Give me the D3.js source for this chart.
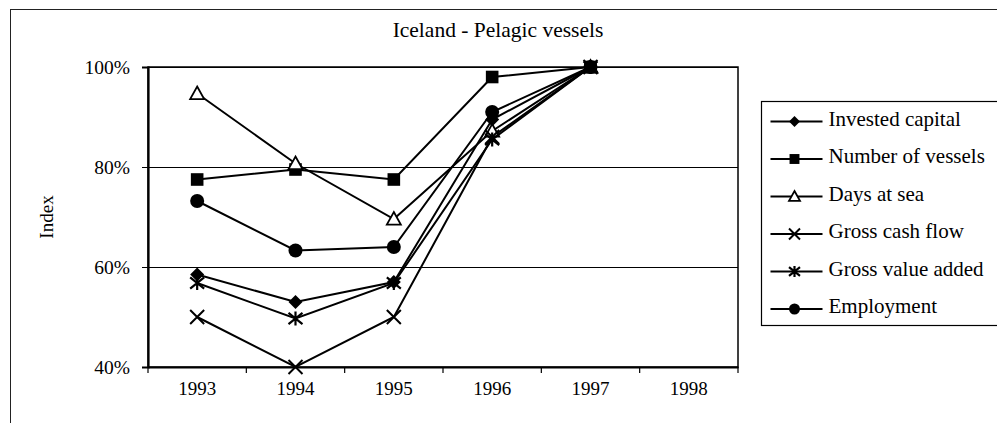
<!DOCTYPE html>
<html>
<head>
<meta charset="utf-8">
<script src="https://cdn.jsdelivr.net/npm/d3@7"></script>
<style>
  body { margin: 0; background: #fff; }
  svg, svg text { font-family: "Liberation Serif", "Times New Roman", "DejaVu Serif", serif; fill: #000; }
</style>
</head>
<body>
<div id="chart"></div>
<script>
// categories and series (index, %)
const years = ["1993", "1994", "1995", "1996", "1997", "1998"];
const investedCapital = [58.5, 53, 57, 89.5, 100];
const numberOfVessels = [77.5, 79.5, 77.5, 98, 100];
const daysAtSea = [94.7, 80.7, 69.6, 87.2, 100];
const grossCashFlow = [50, 40, 50, 86, 100];
const grossValueAdded = [56.8, 49.7, 56.8, 85.5, 100];
const employment = [73.2, 63.3, 64, 91, 100];
const yTicks = [40, 60, 80, 100];

const seriesNames = ["Invested capital", "Number of vessels", "Days at sea",
    "Gross cash flow", "Gross value added", "Employment"];
const seriesValues = [investedCapital, numberOfVessels, daysAtSea,
    grossCashFlow, grossValueAdded, employment];
const seriesSymbols = ["diamond", "square", "triangle", "times", "asterisk", "circle"];

// svg config
const width = 997, height = 423;
const margin = { left: 148, right: 259, top: 67, bottom: 56 };
const serif = "'Liberation Serif', 'Times New Roman', serif";

const svg = d3.select("#chart").append("svg")
    .attr("width", width)
    .attr("height", height)
    .style("font-family", serif);

// outer frame
svg.append("rect")
    .attr("x", 10.5).attr("y", 9.5)
    .attr("width", 1000).attr("height", 430)
    .attr("fill", "none").attr("stroke", "#222").attr("stroke-width", 1);

const x = d3.scaleBand()
    .domain(years)
    .range([margin.left, width - margin.right]);

const y = d3.scaleLinear()
    .domain([40, 100])
    .range([height - margin.bottom, margin.top]);

// gridlines
svg.append("g")
    .selectAll("line")
    .data(yTicks)
    .join("line")
    .attr("x1", margin.left).attr("x2", width - margin.right)
    .attr("y1", d => y(d)).attr("y2", d => y(d))
    .attr("stroke", "#000").attr("stroke-width", 1)
    .attr("shape-rendering", "crispEdges");

// plot border
svg.append("rect")
    .attr("x", margin.left).attr("y", margin.top)
    .attr("width", width - margin.right - margin.left)
    .attr("height", height - margin.bottom - margin.top)
    .attr("fill", "none").attr("stroke", "#000").attr("stroke-width", 1.5);

// axes
const xAxis = d3.axisBottom(x).tickSize(0).tickPadding(15);
const gx = svg.append("g")
    .attr("transform", `translate(0, ${height - margin.bottom})`)
    .call(xAxis)
    .attr("font-family", serif);
gx.select(".domain").attr("stroke-width", 2.2);
gx.selectAll("text").attr("font-size", 19);
// tick marks at band edges
gx.selectAll("line.edge")
    .data(years.concat(["end"]))
    .join("line")
    .attr("class", "edge")
    .attr("x1", (d, i) => margin.left + i * x.step())
    .attr("x2", (d, i) => margin.left + i * x.step())
    .attr("y1", 0).attr("y2", 6)
    .attr("stroke", "#000").attr("stroke-width", 1.2);

const yAxis = d3.axisLeft(y).tickValues(yTicks).tickSize(6).tickPadding(12)
    .tickFormat(d => d + "%");
const gy = svg.append("g")
    .attr("transform", `translate(${margin.left}, 0)`)
    .call(yAxis)
    .attr("font-family", serif);
gy.select(".domain").attr("stroke-width", 2.2);
gy.selectAll("text").attr("font-size", 19.5);

// axis title
svg.append("text")
    .attr("transform", `translate(53, ${(margin.top + height - margin.bottom) / 2}) rotate(-90)`)
    .attr("text-anchor", "middle")
    .attr("font-size", 19)
    .text("Index");

// chart title
svg.append("text")
    .attr("x", 498)
    .attr("y", 37)
    .attr("text-anchor", "middle")
    .attr("font-size", 21.5)
    .text("Iceland - Pelagic vessels");

// marker drawing
function drawMarker(g, type, size) {
    const s = size;
    if (type === "diamond") {
        g.append("path").attr("d", `M0,${-s}L${s},0L0,${s}L${-s},0Z`).attr("fill", "#000");
    } else if (type === "square") {
        g.append("rect").attr("x", -s * 0.9).attr("y", -s * 0.9)
            .attr("width", s * 1.8).attr("height", s * 1.8).attr("fill", "#000");
    } else if (type === "triangle") {
        g.append("path").attr("d", `M0,${-s}L${s},${s * 0.8}L${-s},${s * 0.8}Z`)
            .attr("fill", "#fff").attr("stroke", "#000").attr("stroke-width", 1.8);
    } else if (type === "times") {
        g.append("path").attr("d", `M${-s},${-s}L${s},${s}M${-s},${s}L${s},${-s}`)
            .attr("stroke", "#000").attr("stroke-width", 2);
    } else if (type === "asterisk") {
        g.append("path").attr("d", `M${-s},${-s * 0.8}L${s},${s * 0.8}M${-s},${s * 0.8}L${s},${-s * 0.8}M0,${-s}L0,${s}`)
            .attr("stroke", "#000").attr("stroke-width", 2.2);
    } else if (type === "circle") {
        g.append("circle").attr("r", s).attr("fill", "#000");
    }
}

const line = d3.line()
    .x((d, i) => x(years[i]) + x.bandwidth() / 2)
    .y(d => y(d));

seriesValues.forEach((vals, si) => {
    svg.append("path")
        .datum(vals)
        .attr("d", line)
        .attr("fill", "none")
        .attr("stroke", "#000")
        .attr("stroke-width", 2);
});

seriesValues.forEach((vals, si) => {
    vals.forEach((v, i) => {
        const g = svg.append("g")
            .attr("transform", `translate(${x(years[i]) + x.bandwidth() / 2}, ${y(v)})`);
        drawMarker(g, seriesSymbols[si], 7);
    });
});

// legend
const legend = svg.append("g").attr("transform", "translate(761.5, 101.5)");
legend.append("rect")
    .attr("width", 300).attr("height", 224)
    .attr("fill", "#fff").attr("stroke", "#000").attr("stroke-width", 1.2);

const legendItems = legend.selectAll("g.legend-item")
    .data(seriesNames)
    .join("g")
    .attr("class", "legend-item")
    .attr("transform", (d, i) => `translate(0, ${20 + i * 37.5})`);

legendItems.append("line")
    .attr("x1", 9).attr("x2", 61)
    .attr("stroke", "#000").attr("stroke-width", 2);

legendItems.each(function (d, i) {
    const g = d3.select(this).append("g").attr("transform", "translate(33, 0)");
    drawMarker(g, seriesSymbols[i], 5.5);
});

legendItems.append("text")
    .attr("x", 67)
    .attr("y", 0)
    .attr("dy", "0.2em")
    .attr("font-size", 21)
    .text(d => d);
</script>
</body>
</html>
